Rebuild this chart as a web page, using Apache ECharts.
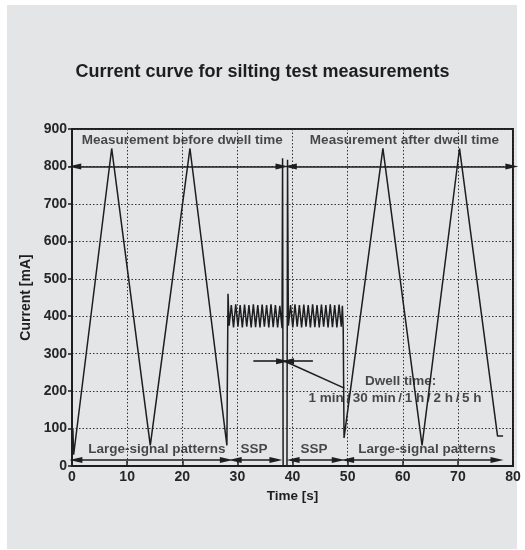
<!DOCTYPE html>
<html>
<head>
<meta charset="utf-8">
<title>Current curve for silting test measurements</title>
<script src="https://cdn.jsdelivr.net/npm/echarts@6/dist/echarts.min.js"></script>
<style>
  html, body { margin: 0; padding: 0; background: #ffffff; }
  #chart { width: 525px; height: 550px; }
</style>
</head>
<body>
<div id="chart"></div>
<script>
// Time axis values [s] of the measured current curve
const timeS = [
  0, 0.15, 0.3, 7.2, 14.2, 21.4, 28.1, 28.3,
  // SSP block before the dwell time
  28.5, 28.9, 29.3, 29.7, 30.1, 30.5, 30.9, 31.3, 31.7, 32.1, 32.5, 32.9,
  33.3, 33.7, 34.1, 34.5, 34.9, 35.3, 35.7, 36.1, 36.5, 36.9, 37.3, 37.7, 38.1,
  // dwell time break
  38.2, 38.3, 39.0, 39.1,
  // SSP block after the dwell time
  39.25, 39.65, 40.05, 40.45, 40.85, 41.25, 41.65, 42.05, 42.45, 42.85, 43.25, 43.65,
  44.05, 44.45, 44.85, 45.25, 45.65, 46.05, 46.45, 46.85, 47.25, 47.65, 48.05, 48.45,
  48.85, 49.05, 49.2,
  // large-signal patterns after the dwell time
  49.35, 56.4, 63.5, 70.3, 77.2, 78.2
];

// Current values [mA] matching timeS
const currentMA = [
  0, 100, 30, 848, 55, 848, 55, 460,
  375, 430, 370, 432, 372, 430, 370, 431, 372, 430, 370, 432,
  371, 430, 370, 431, 372, 430, 370, 432, 371, 430, 370, 428, 368,
  822, 0, 0, 818,
  375, 430, 370, 432, 372, 430, 370, 431, 372, 430, 370, 432,
  371, 430, 370, 431, 372, 430, 370, 432, 371, 430, 370, 431,
  372, 428, 366,
  75, 848, 55, 848, 80, 80
];

// Axis ranges and tick steps
const xTicks = [0, 10, 20, 30, 40, 50, 60, 70, 80];
const yTicks = [0, 100, 200, 300, 400, 500, 600, 700, 800, 900];

// Double-headed range arrows: [fromTime, toTime, level]
const rangeArrows = [
  [0.5, 38.1, 800],
  [39.6, 79.8, 800],
  [0.7, 28.0, 16],
  [29.6, 37.0, 16],
  [40.1, 48.3, 16],
  [50.0, 77.1, 16]
];

// Dwell-time pointer arrows: [tailTime, tipTime, level]
const dwellArrows = [
  [32.9, 38.2, 280],
  [43.7, 39.1, 280]
];

// Leader line to the dwell time note: [t1, v1, t2, v2]
const dwellLeader = [38.6, 280, 49.4, 208];

// Text notes placed in data coordinates
const noteTexts = ['Measurement before dwell time', 'Measurement after dwell time',
  'Large-signal patterns', 'SSP', 'SSP', 'Large-signal patterns',
  'Dwell time:', '1 min\u2009/\u200930 min\u2009/\u20091 h\u2009/\u20092 h\u2009/\u20095 h'];
const noteTimes = [20.0, 60.3, 15.4, 33.0, 43.9, 64.4, 59.6, 58.6];
const noteValues = [871, 871, 45, 45, 45, 45, 225, 182];

const FONT = '"Liberation Sans", Arial, Helvetica, sans-serif';
const INK = '#1e1e1e';

const curve = timeS.map((t, i) => [t, currentMA[i]]);

const arrowLines = rangeArrows.map(a => [
  { coord: [a[0], a[2]], symbol: 'triangle' },
  { coord: [a[1], a[2]], symbol: 'triangle' }
]);
const pointerLines = dwellArrows.map(a => [
  { coord: [a[0], a[2]], symbol: 'none' },
  { coord: [a[1], a[2]], symbol: 'triangle' }
]);
const leaderLine = [[
  { coord: [dwellLeader[0], dwellLeader[1]], symbol: 'none' },
  { coord: [dwellLeader[2], dwellLeader[3]], symbol: 'none' }
]];

const notes = noteTexts.map((txt, i) => ({ value: [noteTimes[i], noteValues[i]], name: txt }));

const chart = echarts.init(document.getElementById('chart'), null, { renderer: 'canvas' });

chart.setOption({
  backgroundColor: '#ffffff',
  animation: false,
  graphic: [{
    type: 'rect',
    z: -10,
    shape: { x: 7, y: 5, width: 510, height: 544 },
    style: { fill: '#e4e5e7' },
    silent: true
  }],
  title: {
    text: 'Current curve for silting test measurements',
    left: 'center',
    top: 58,
    textStyle: { fontFamily: FONT, fontSize: 18, fontWeight: 'bold', color: INK }
  },
  grid: {
    left: 72, right: 12, top: 129, bottom: 84,
    show: true, borderColor: INK, borderWidth: 2, backgroundColor: 'transparent'
  },
  xAxis: {
    type: 'value',
    min: xTicks[0], max: xTicks[xTicks.length - 1], interval: 10,
    name: 'Time [s]', nameLocation: 'middle', nameGap: 23,
    nameTextStyle: { fontFamily: FONT, fontSize: 13.5, fontWeight: 'bold', color: INK },
    axisLine: { show: true, lineStyle: { color: INK, width: 2 } },
    axisTick: { show: true, inside: true, length: 5, lineStyle: { color: INK, width: 1.5 } },
    axisLabel: { fontFamily: FONT, fontSize: 14, fontWeight: 'bold', color: '#262626', margin: 4 },
    splitLine: { show: true, lineStyle: { color: '#333333', width: 1, type: [1.5, 2] } }
  },
  yAxis: {
    type: 'value',
    min: yTicks[0], max: yTicks[yTicks.length - 1], interval: 100,
    name: 'Current [mA]', nameLocation: 'middle', nameGap: 35, nameRotate: 90,
    nameTextStyle: { fontFamily: FONT, fontSize: 14, fontWeight: 'bold', color: INK },
    axisLine: { show: true, lineStyle: { color: INK, width: 2 } },
    axisTick: { show: true, inside: false, length: 4, lineStyle: { color: INK, width: 1.5 } },
    axisLabel: { fontFamily: FONT, fontSize: 14, fontWeight: 'bold', color: '#262626', margin: 5 },
    splitLine: { show: true, lineStyle: { color: '#333333', width: 1, type: [1.5, 2] } }
  },
  series: [
    {
      name: 'Current',
      type: 'line',
      data: curve,
      showSymbol: false,
      symbol: 'none',
      lineStyle: { color: INK, width: 1.5 },
      z: 3
    },
    {
      name: 'Ranges',
      type: 'line',
      data: [],
      markLine: {
        silent: true,
        symbolSize: [6, 13],
        lineStyle: { color: INK, width: 1.6, type: 'solid' },
        label: { show: false },
        data: arrowLines.concat(pointerLines, leaderLine)
      },
      z: 4
    },
    {
      name: 'Notes',
      type: 'scatter',
      data: notes,
      symbolSize: 0,
      label: {
        show: true,
        position: 'inside',
        formatter: p => p.name,
        fontFamily: FONT,
        fontSize: 13.5,
        fontWeight: 'bold',
        color: INK
      },
      z: 5
    }
  ]
});
</script>
</body>
</html>
